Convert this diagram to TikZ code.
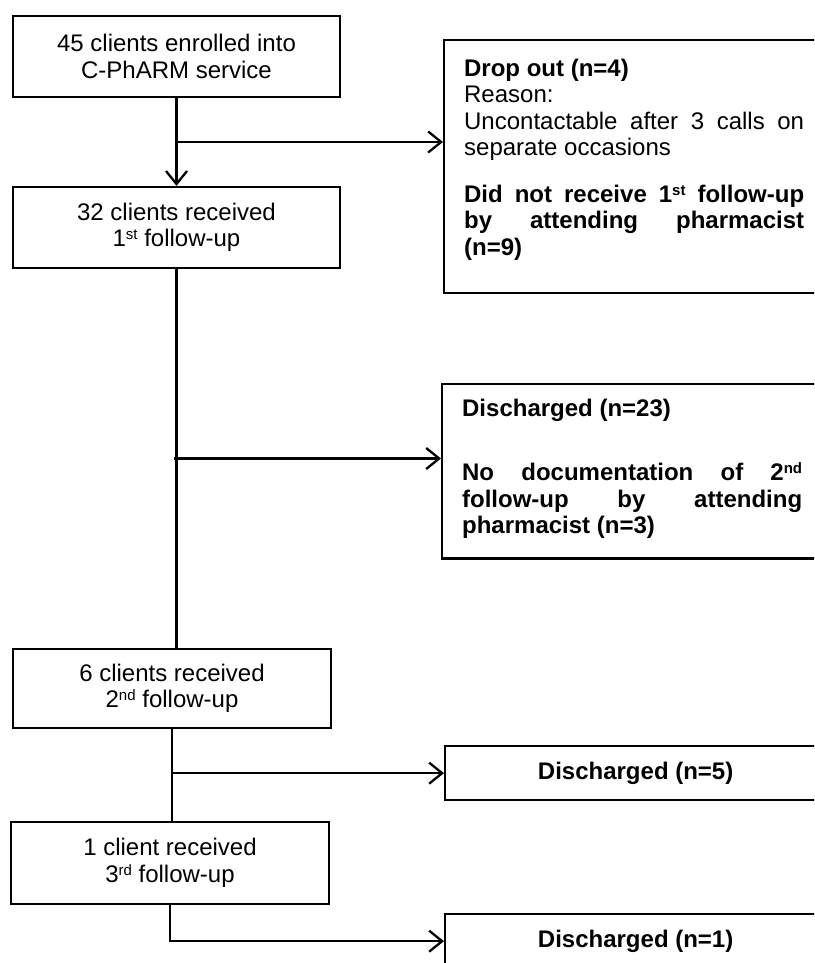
\documentclass[tikz,border=0pt]{standalone}
\usepackage{fontspec}
\setmainfont{Liberation Sans}
\usetikzlibrary{arrows.meta,calc}
\tolerance=10000
\hbadness=10000
\hyphenpenalty=10000
\exhyphenpenalty=10000
\newcommand{\ordsup}[1]{\raisebox{7pt}{\fontsize{15}{15}\selectfont #1}}

\begin{document}
\begin{tikzpicture}[x=1pt, y=-1pt, line width=2.3pt,
    >={Straight Barb[length=13pt,width=21pt]},
    every node/.style={font=\fontsize{24}{26.5}\selectfont},
    stage/.style={draw, align=center, inner sep=0pt},
    outcome/.style={draw, anchor=north west, text width=340pt, align=justify,
      inner xsep=20pt},
    discharge/.style={draw, anchor=north west, minimum width=381pt,
      minimum height=54pt, font=\fontsize{24}{26.5}\selectfont\bfseries}]
  \useasboundingbox (0,0) rectangle (814,963);
  \clip (0,0) rectangle (814,963);
  % Follow-up stages
  \node[stage, minimum width=327pt, minimum height=81pt] (enrol) at (176.5,56.5)
  {45 clients enrolled into\\C-PhARM service};
  \node[stage, minimum width=327pt, minimum height=81pt] (fu1) at (176.5,227.5)
  {32 clients received\\1\ordsup{st} follow-up};
  \node[stage, minimum width=318pt, minimum height=79pt] (fu2) at (172,688.5)
  {6 clients received\\2\ordsup{nd} follow-up};
  \node[stage, minimum width=318pt, minimum height=82pt] (fu3) at (170,863)
  {1 client received\\3\ordsup{rd} follow-up};
  % Losses
  \node[outcome, inner ysep=18.5pt] (drop) at (443,39)
  {{\bfseries Drop out (n=4)}\par Reason:\par
    Uncontactable after 3 calls on\linebreak separate occasions\par
    \vspace{20pt}{\bfseries Did not receive 1\ordsup{st} follow-up\linebreak
      by attending pharmacist\linebreak (n=9)}\rule[-19.5pt]{0pt}{19.5pt}};
  \node[outcome, inner ysep=14.5pt, font=\fontsize{24}{26.5}\selectfont\bfseries]
  (dis23) at (441,383)
  {Discharged (n=23)\par\vspace{38pt}
    No documentation of 2\ordsup{nd}\linebreak follow-up by attending\linebreak
    pharmacist (n=3)\rule[-10.5pt]{0pt}{10.5pt}};
  \node[discharge] (dis5) at (444,745) {Discharged (n=5)};
  \node[discharge] (dis1) at (444,913) {Discharged (n=1)};
  % Flow
  \coordinate (j1) at ($(enrol.south)!0.5!(fu1.north)$);
  \coordinate (j2) at ($(fu1.south)!0.5!(fu2.north)$);
  \draw[->] (enrol.south) -- (fu1.north);
  \draw[->] (j1) -- (j1 -| drop.west);
  \draw (fu1.south) -- (fu1.south |- fu2.north);
  \draw[->] (j2) -- (j2 -| dis23.west);
  \draw (fu2.south) -- (fu2.south |- fu3.north);
  \draw[->] (fu2.south |- dis5.west) -- (dis5.west);
  \draw[->] (fu3.south) |- (dis1.west);
\end{tikzpicture}
\end{document}
